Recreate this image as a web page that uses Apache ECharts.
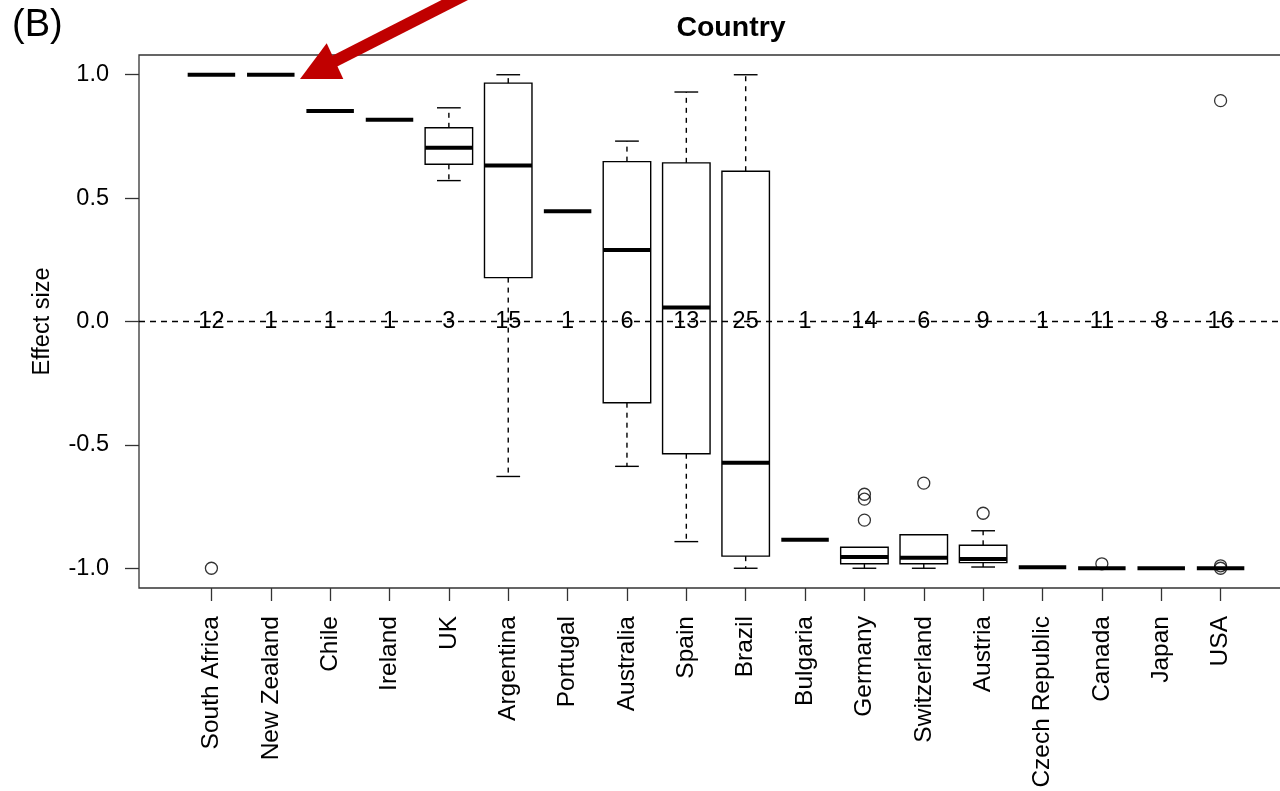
<!DOCTYPE html>
<html>
<head>
<meta charset="utf-8">
<script src="https://cdn.jsdelivr.net/npm/echarts@6/dist/echarts.min.js"></script>
<style>html,body{margin:0;padding:0;background:#fff;}#chart{width:1280px;height:791px;}</style>
</head>
<body>
<div id="chart"></div>
<script>
// ---- data ----
const categories = ['South Africa','New Zealand','Chile','Ireland','UK','Argentina','Portugal','Australia','Spain','Brazil','Bulgaria','Germany','Switzerland','Austria','Czech Republic','Canada','Japan','USA'];
const counts      = [12, 1, 1, 1, 3, 15, 1, 6, 13, 25, 1, 14, 6, 9, 1, 11, 8, 16];
const whiskerLow  = [1.0, 1.0, 0.853, 0.818, 0.571, -0.628, 0.447, -0.587, -0.892, -1.0, -0.884, -1.0, -1.0, -0.995, -0.996, -1.0, -1.0, -1.0];
const q1          = [1.0, 1.0, 0.853, 0.818, 0.637, 0.178, 0.447, -0.329, -0.536, -0.951, -0.884, -0.982, -0.982, -0.977, -0.996, -1.0, -1.0, -1.0];
const medians     = [1.0, 1.0, 0.853, 0.818, 0.704, 0.632, 0.447, 0.290, 0.057, -0.572, -0.884, -0.954, -0.957, -0.962, -0.996, -1.0, -1.0, -1.0];
const q3          = [1.0, 1.0, 0.853, 0.818, 0.785, 0.966, 0.447, 0.648, 0.643, 0.609, -0.884, -0.915, -0.864, -0.907, -0.996, -1.0, -1.0, -1.0];
const whiskerHigh = [1.0, 1.0, 0.853, 0.818, 0.866, 1.0, 0.447, 0.731, 0.930, 1.0, -0.884, -0.915, -0.864, -0.848, -0.996, -1.0, -1.0, -1.0];
const outliers    = [[1, -1.0], [12, -0.70], [12, -0.72], [12, -0.805], [13, -0.655], [14, -0.777], [16, -0.982], [18, 0.895], [18, -0.99], [18, -1.0]];
const yTicks      = [-1.0, -0.5, 0.0, 0.5, 1.0];
const xTicks      = categories.map((c, i) => i + 1);

const FONT = 'Liberation Sans, Arial, sans-serif';
const boxData = categories.map((c, i) => [i + 1, whiskerLow[i], q1[i], medians[i], q3[i], whiskerHigh[i], counts[i]]);

function renderBox(params, api) {
  const x = api.value(0);
  const lo = api.value(1), a = api.value(2), m = api.value(3), b = api.value(4), hi = api.value(5);
  const n = api.value(6);
  const half = api.size([0.8, 0])[0] / 2;
  const capHalf = half / 2;
  const pLo = api.coord([x, lo]), pA = api.coord([x, a]), pM = api.coord([x, m]), pB = api.coord([x, b]), pHi = api.coord([x, hi]);
  const p0 = api.coord([x, 0]);
  const cx = pM[0];
  const solid = { stroke: '#000', lineWidth: 1.4, fill: null };
  const dashed = { stroke: '#000', lineWidth: 1.4, lineDash: [5, 5], fill: null };
  const children = [];
  if (b > a) {
    children.push({ type: 'rect', shape: { x: cx - half, y: pB[1], width: 2 * half, height: pA[1] - pB[1] }, style: solid });
  }
  if (hi > b) {
    children.push({ type: 'line', shape: { x1: cx, y1: pB[1], x2: cx, y2: pHi[1] }, style: dashed });
    children.push({ type: 'line', shape: { x1: cx - capHalf, y1: pHi[1], x2: cx + capHalf, y2: pHi[1] }, style: solid });
  }
  if (lo < a) {
    children.push({ type: 'line', shape: { x1: cx, y1: pA[1], x2: cx, y2: pLo[1] }, style: dashed });
    children.push({ type: 'line', shape: { x1: cx - capHalf, y1: pLo[1], x2: cx + capHalf, y2: pLo[1] }, style: solid });
  }
  children.push({ type: 'line', shape: { x1: cx - half, y1: pM[1], x2: cx + half, y2: pM[1] }, style: { stroke: '#000', lineWidth: 4 } });
  children.push({ type: 'text', z2: 10, style: { text: String(n), x: cx, y: p0[1], align: 'center', verticalAlign: 'middle', textAlign: 'center', textVerticalAlign: 'middle', fontSize: 23.5, fontFamily: FONT, fill: '#000' } });
  return { type: 'group', children };
}

const chart = echarts.init(document.getElementById('chart'), null, { renderer: 'canvas' });
chart.setOption({
  animation: false,
  backgroundColor: '#fff',
  title: {
    text: 'Country', left: 726, top: 9, textAlign: 'center',
    textStyle: { fontSize: 28.5, fontWeight: 'bold', color: '#000', fontFamily: FONT }
  },
  graphic: [
    { type: 'text', left: 12, top: 7, style: { text: '(B)', fontSize: 38, fontFamily: FONT, fill: '#000' } },
    { type: 'line', z: 100, shape: { x1: 333, y1: 62, x2: 500, y2: -23 }, style: { stroke: '#c00000', lineWidth: 12 } },
    { type: 'polygon', z: 100, shape: { points: [[300, 79], [326.7, 43.3], [343.3, 79]] }, style: { fill: '#c00000' } }
  ],
  grid: {
    left: 139, top: 55, bottom: 203, right: -13,
    show: true, borderColor: '#333', borderWidth: 1.3, backgroundColor: 'transparent',
    containLabel: false, outerBoundsMode: 'none'
  },
  xAxis: {
    type: 'value', min: -0.22, max: 19.22, position: 'bottom',
    splitLine: { show: false },
    axisLine: { show: false, onZero: false },
    axisTick: { show: true, length: 13, customValues: xTicks, lineStyle: { color: '#333', width: 1.3 } },
    axisLabel: {
      show: true, customValues: xTicks, rotate: 90, margin: 28,
      formatter: v => categories[Math.round(v) - 1] || '',
      fontSize: 24.5, fontFamily: FONT, color: '#000'
    }
  },
  yAxis: {
    type: 'value', min: -1.08, max: 1.08, position: 'left',
    name: 'Effect size', nameLocation: 'middle', nameRotate: 90, nameGap: 84,
    nameTextStyle: { fontSize: 23.5, fontFamily: FONT, color: '#000' },
    splitLine: { show: false },
    axisLine: { show: false, onZero: false },
    axisTick: { show: true, length: 14, customValues: yTicks, lineStyle: { color: '#333', width: 1.3 } },
    axisLabel: {
      show: true, customValues: yTicks, margin: 30,
      formatter: v => v.toFixed(1),
      fontSize: 23.5, fontFamily: FONT, color: '#000'
    }
  },
  series: [
    {
      type: 'custom', name: 'boxes', data: boxData,
      encode: { x: 0, y: [1, 2, 3, 4, 5] },
      renderItem: renderBox,
      silent: true,
      markLine: {
        silent: true, symbol: ['none', 'none'], label: { show: false },
        lineStyle: { color: '#000', width: 1.3, type: [6, 5] },
        data: [{ yAxis: 0 }]
      }
    },
    {
      type: 'scatter', name: 'outliers', data: outliers,
      symbol: 'circle', symbolSize: 12, silent: true,
      itemStyle: { color: 'rgba(0,0,0,0)', borderColor: '#000', borderWidth: 1.3 }
    }
  ]
});
</script>
</body>
</html>
